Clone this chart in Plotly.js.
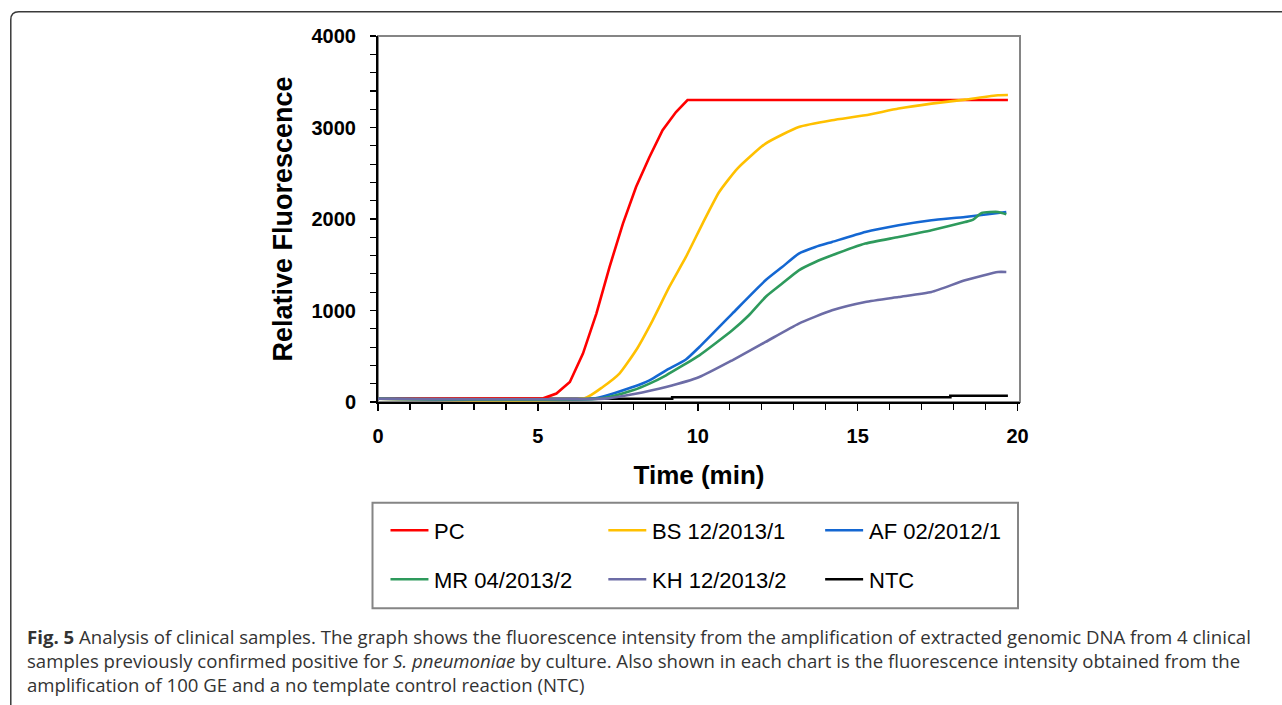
<!DOCTYPE html>
<html><head><meta charset="utf-8">
<script src="https://cdn.plot.ly/plotly-3.0.1.min.js"></script>
<style>html,body{margin:0;padding:0;background:#fff}#chart{width:1282px;height:705px}</style>
</head><body><div id="chart"></div>
<script>
// ---- data ----
const seriesNames = ['PC', 'BS 12/2013/1', 'AF 02/2012/1', 'MR 04/2013/2', 'KH 12/2013/2', 'NTC'];
const seriesColors = ['#ff0000', '#ffc000', '#1467d2', '#2e9a5c', '#6c6ca6', '#000000'];

const pcTime  = [0, 5.17, 5.58, 6.0, 6.41, 6.83, 7.24, 7.66, 8.07, 8.49, 8.9, 9.32, 9.68, 19.7];
const pcValue = [35, 40, 92, 219, 529, 966, 1475, 1950, 2350, 2678, 2970, 3169, 3300, 3300];

const bsTime  = [0, 6.46, 7.03, 7.55, 8.07, 8.59, 9.11, 9.63, 10.15, 10.67, 11.24, 12.12, 13.16, 14.2, 15.24, 16.28, 17.31, 18.36, 19.39, 19.7];
const bsValue = [35, 40, 164, 310, 565, 893, 1257, 1585, 1950, 2295, 2551, 2824, 3005, 3079, 3133, 3207, 3261, 3305, 3352, 3355];

const afTime  = [0, 6.8, 7.97, 8.49, 9.01, 9.63, 10.05, 11.08, 12.12, 12.64, 13.16, 13.68, 14.2, 15.24, 16.28, 17.31, 18.36, 19.65];
const afValue = [35, 40, 164, 237, 346, 465, 601, 966, 1330, 1475, 1622, 1694, 1749, 1858, 1931, 1986, 2022, 2077];

const mrTime  = [0, 7.0, 7.97, 8.49, 9.01, 10.05, 11.08, 11.6, 12.12, 12.64, 13.16, 13.68, 14.2, 15.24, 16.28, 17.31, 18.36, 18.6, 18.88, 19.39, 19.65];
const mrValue = [35, 40, 128, 201, 292, 510, 784, 948, 1148, 1294, 1439, 1530, 1603, 1731, 1803, 1877, 1967, 1990, 2066, 2077, 2051];

const khTime  = [0, 7.2, 7.97, 9.01, 10.05, 11.08, 12.12, 13.16, 14.2, 15.24, 16.28, 17.31, 18.36, 19.39, 19.65];
const khValue = [35, 40, 84, 164, 273, 456, 656, 857, 1002, 1093, 1148, 1202, 1330, 1421, 1421];

const ntcTime  = [0, 9.2, 17.9, 19.7];
const ntcValue = [35, 52, 68, 68];

const xTickVals = [0, 5, 10, 15, 20];
const yTickVals = [0, 1000, 2000, 3000, 4000];

const xTitle = 'Time (min)';
const yTitle = 'Relative Fluorescence';
const captionLines = [
  '<b>Fig. 5</b> Analysis of clinical samples. The graph shows the fluorescence intensity from the amplification of extracted genomic DNA from 4 clinical',
  'samples previously confirmed positive for <i>S. pneumoniae</i> by culture. Also shown in each chart is the fluorescence intensity obtained from the',
  'amplification of 100 GE and a no template control reaction (NTC)'
];

// ---- layout geometry ----
const W = 1282, H = 705;
const L = 377.5, R = 262, T = 35.7, B = 303.3;
const PW = W - L - R, PH = H - T - B;
const px = x => (x - L) / PW;
const py = y => (H - B - y) / PH;

const times = [pcTime, bsTime, afTime, mrTime, khTime, ntcTime];
const values = [pcValue, bsValue, afValue, mrValue, khValue, ntcValue];

// draw NTC first, then the samples, KH last
const drawOrder = [5, 0, 1, 2, 3, 4];
const traces = drawOrder.map(i => ({
  type: 'scatter', mode: 'lines', name: seriesNames[i],
  x: times[i], y: values[i],
  line: i === 5 ? {color: seriesColors[i], width: 2.6, shape: 'hv'}
      : i === 0 ? {color: seriesColors[i], width: 2.6, shape: 'linear'}
                : {color: seriesColors[i], width: 2.6, shape: 'spline', smoothing: 0.5},
  showlegend: false, hoverinfo: 'skip'
}));

const shapes = [];
const annotations = [];

// plot-area frame (grey)
shapes.push({type: 'rect', xref: 'paper', yref: 'paper', x0: 0, x1: 1, y0: 0, y1: 1,
  line: {color: '#858585', width: 2}, layer: 'below'});

// legend box
shapes.push({type: 'rect', xref: 'paper', yref: 'paper', x0: px(372), x1: px(1018), y0: py(608), y1: py(502.5),
  line: {color: '#858585', width: 2}});
const legCols = [390, 608, 825];
const legRows = [530, 579];
seriesNames.forEach((n, i) => {
  const cx = legCols[i % 3], ry = legRows[Math.floor(i / 3)];
  shapes.push({type: 'line', xref: 'paper', yref: 'paper', x0: px(cx), x1: px(cx + 38), y0: py(ry), y1: py(ry),
    line: {color: seriesColors[i], width: 2.6}});
  annotations.push({xref: 'paper', yref: 'paper', x: px(cx + 42), y: py(ry + 1), xanchor: 'left', yanchor: 'middle',
    text: n, showarrow: false, font: {family: 'Liberation Sans, Arial, sans-serif', size: 22, color: '#000'}});
});

// outer figure border (rounded top-left corner, open right & bottom)
const bx = 10, by = 11.5, rr = 8;
shapes.push({type: 'path', xref: 'paper', yref: 'paper',
  path: `M ${px(bx)},${py(H + 2)} L ${px(bx)},${py(by + rr)} Q ${px(bx)},${py(by)} ${px(bx + rr)},${py(by)} L ${px(W + 2)},${py(by)}`,
  line: {color: '#3a3a3a', width: 1.5}});

// caption
const capY = [636, 660, 684];
captionLines.forEach((t, i) => {
  annotations.push({xref: 'paper', yref: 'paper', x: px(24), y: py(capY[i]), xanchor: 'left', yanchor: 'middle',
    text: t, showarrow: false, font: {family: 'Open Sans, sans-serif', size: 18.6, color: '#333333'}});
});

const tickFont = {family: 'Liberation Sans, Arial, sans-serif', size: 20, color: '#000', weight: 'bold'};
const titleFont = {family: 'Liberation Sans, Arial, sans-serif', size: 26, color: '#000', weight: 'bold'};
const yTitleFont = {family: 'Liberation Sans, Arial, sans-serif', size: 27, color: '#000', weight: 'bold'};

const layout = {
  width: W, height: H,
  margin: {l: L, r: R, t: T, b: B, pad: 0},
  paper_bgcolor: '#fff', plot_bgcolor: '#fff',
  showlegend: false,
  xaxis: {
    range: [0, (1020 - L) / 32], tickvals: xTickVals, ticktext: xTickVals.map(String),
    showgrid: false, zeroline: false, showline: true, linecolor: '#000', linewidth: 2,
    ticks: 'outside', ticklen: 7, tickwidth: 1.5, tickcolor: '#000',
    minor: {dtick: 1, tick0: 0, ticks: 'outside', ticklen: 6, tickwidth: 1.2, tickcolor: '#000', showgrid: false},
    tickfont: tickFont, ticklabelstandoff: 8,
    title: {text: xTitle, font: titleFont, standoff: 20}
  },
  yaxis: {
    range: [0, 4000], tickvals: yTickVals, ticktext: yTickVals.map(String),
    showgrid: false, zeroline: false, showline: true, linecolor: '#000', linewidth: 2,
    ticks: 'outside', ticklen: 6, tickwidth: 1.5, tickcolor: '#000',
    minor: {dtick: 200, tick0: 0, ticks: 'outside', ticklen: 6, tickwidth: 1.2, tickcolor: '#000', showgrid: false},
    tickfont: tickFont, ticklabelstandoff: 10,
    title: {text: yTitle, font: yTitleFont, standoff: 11}
  },
  shapes: shapes,
  annotations: annotations
};

Plotly.newPlot('chart', traces, layout, {staticPlot: true, displayModeBar: false});
</script>
</body></html>
